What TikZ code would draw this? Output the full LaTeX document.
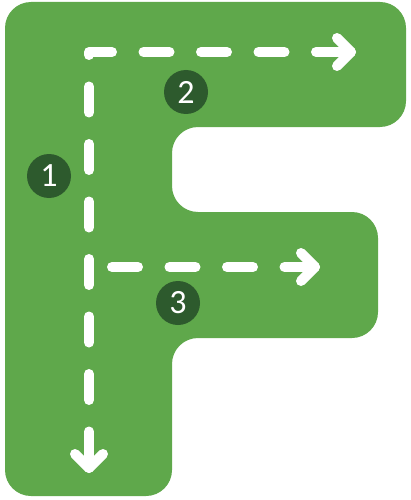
\documentclass[tikz,border=0pt]{standalone}
\usepackage{fontspec}
\newfontfamily\numfont{Carlito}
\definecolor{fgreen}{HTML}{5FA84B}
\definecolor{dgreen}{HTML}{2D5A2D}
\tikzset{
  route/.style={white, line width=10pt, line cap=round, line join=round},
  dashroute/.style={route, dash pattern=on 26pt off 31.5pt},
  badge/.style={circle, fill=dgreen, minimum size=44pt, inner sep=0pt, text=white,
    font=\numfont\fontsize{34}{34}\selectfont}
}
\begin{document}
\begin{tikzpicture}[x=1pt,y=-1pt]
\useasboundingbox (0,0) rectangle (410,500);
% letter F
\fill[fgreen, rounded corners=26pt] (5,250) -- (5,2) -- (406,2) -- (406,127) -- (172,127)
  -- (172,212) -- (378,212) -- (378,338) -- (172,338) -- (172,496) -- (5,496) -- cycle;
% route coordinates
\coordinate (bottomtip) at (89,468);
\coordinate (corner) at (89,52);
\coordinate (toptip) at (351,52);
\coordinate (midstart) at (112,267);
\coordinate (midtip) at (315,267);
% strokes 1 and 2
\draw[dashroute, dash phase=47pt] (bottomtip) -- (corner) -- (toptip);
\draw[route] ([yshift=28pt]bottomtip) -- (bottomtip);
\draw[route] ([xshift=-14pt,yshift=14pt]bottomtip) -- (bottomtip) -- ([xshift=14pt,yshift=14pt]bottomtip);
\draw[route] ([xshift=-21pt]toptip) -- (toptip);
\draw[route] ([xshift=-14pt,yshift=-14pt]toptip) -- (toptip) -- ([xshift=-14pt,yshift=14pt]toptip);
% stroke 3
\draw[dashroute] (midstart) -- (midtip);
\draw[route] ([xshift=-20pt]midtip) -- (midtip);
\draw[route] ([xshift=-14pt,yshift=-14pt]midtip) -- (midtip) -- ([xshift=-14pt,yshift=14pt]midtip);
% badges
\node[badge] (n1) at (49,176) {1};
\node[badge] (n2) at (186,92) {2};
\node[badge] (n3) at (178,303) {3};
\end{tikzpicture}
\end{document}
